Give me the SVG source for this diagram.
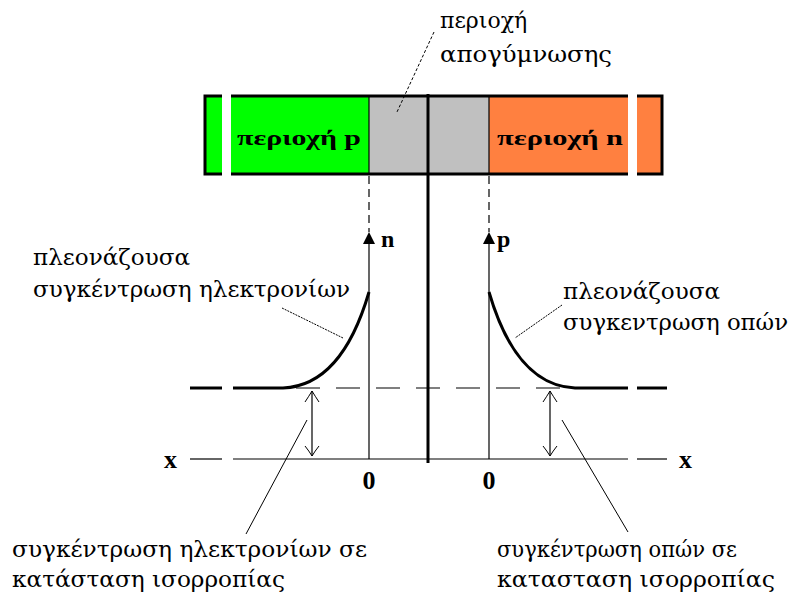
<svg xmlns="http://www.w3.org/2000/svg" width="793" height="597" viewBox="0 0 793 597">
<style>
.lbl{font-family:"DejaVu Serif","Liberation Serif",serif;font-size:22px;fill:#000}
.bld{font-family:"Liberation Serif","DejaVu Serif",serif;font-weight:bold;fill:#000}
.thin{stroke:#000;stroke-width:1.2;fill:none}
.thick{stroke:#000;stroke-width:3;fill:none}
.lead{stroke:#000;stroke-width:1;fill:none}
.head{fill:#000}
</style>
<rect width="793" height="597" fill="#fff"/>

<g id="bar">
<rect x="205" y="96" width="164" height="78" fill="#00ff00"/>
<rect x="369" y="96" width="120" height="78" fill="#c0c0c0"/>
<rect x="489" y="96" width="173" height="78" fill="#ff8040"/>
<rect x="205" y="96" width="457" height="78" fill="none" stroke="#000" stroke-width="3"/>
<line x1="369" y1="96" x2="369" y2="174" stroke="#000" stroke-width="1.2"/>
<line x1="489" y1="96" x2="489" y2="174" stroke="#000" stroke-width="1.2"/>
<rect x="222" y="90" width="9" height="90" fill="#fff"/>
<rect x="628" y="90" width="9" height="90" fill="#fff"/>
<text class="bld" x="237" y="145" font-size="22" textLength="124" lengthAdjust="spacingAndGlyphs">περιοχή p</text>
<text class="bld" x="497" y="145" font-size="22" textLength="126" lengthAdjust="spacingAndGlyphs">περιοχή n</text>
</g>

<g id="connectors">
<line x1="428" y1="94" x2="428" y2="463" stroke="#000" stroke-width="3"/>
<line x1="369" y1="176" x2="369" y2="232" class="thin" stroke-dasharray="8 5"/>
<line x1="489" y1="176" x2="489" y2="232" class="thin" stroke-dasharray="8 5"/>
<line x1="369" y1="459" x2="369" y2="243" class="thin"/>
<polygon class="head" points="369,232 363,244 375,244"/>
<line x1="489" y1="459" x2="489" y2="243" class="thin"/>
<polygon class="head" points="489,232 483,244 495,244"/>
<line x1="190" y1="459" x2="222" y2="459" class="thin"/>
<line x1="233" y1="459" x2="628" y2="459" class="thin"/>
<line x1="637" y1="459" x2="667" y2="459" class="thin"/>
<line x1="296" y1="388" x2="572" y2="388" class="thin" stroke-dasharray="24 16"/>
<line x1="190" y1="388" x2="222" y2="388" class="thick"/>
<path d="M233,388 L283,388 C330,386 355,340 369,292" class="thick"/>
<path d="M489,292 C503,340 528,386 575,388 L628,388" class="thick"/>
<line x1="637" y1="388" x2="667" y2="388" class="thick"/>
<g id="darrow-left">
<line x1="312" y1="391" x2="312" y2="456" class="thin"/>
<path d="M305,402 Q309,396 312,391 Q315,396 319,402" class="lead"/>
<path d="M305,446 Q309,451 312,456 Q315,451 319,446" class="lead"/>
</g>
<g id="darrow-right">
<line x1="550" y1="391" x2="550" y2="456" class="thin"/>
<path d="M543,402 Q547,396 550,391 Q553,396 557,402" class="lead"/>
<path d="M543,446 Q547,451 550,456 Q553,451 557,446" class="lead"/>
</g>
<line x1="434" y1="32" x2="397" y2="112" class="lead" stroke-dasharray="3 2"/>
<line x1="282" y1="308" x2="343" y2="338" class="lead" stroke-dasharray="2 1"/>
<line x1="562" y1="305" x2="515" y2="338" class="lead" stroke-dasharray="2 1"/>
<line x1="307" y1="420" x2="246" y2="534" class="lead"/>
<line x1="562" y1="420" x2="628" y2="532" class="lead"/>
</g>

<g id="axis-labels">
<text class="bld" x="381" y="247" font-size="24">n</text>
<text class="bld" x="497" y="247" font-size="24">p</text>
<text class="bld" x="164" y="468" font-size="26">x</text>
<text class="bld" x="679" y="468" font-size="26">x</text>
<text class="bld" x="369" y="489" font-size="26" text-anchor="middle">0</text>
<text class="bld" x="489" y="489" font-size="26" text-anchor="middle">0</text>
</g>

<g id="label-depletion">
<text class="lbl" x="440" y="28">περιοχή</text>
<text class="lbl" x="440" y="62" textLength="172" lengthAdjust="spacingAndGlyphs">απογύμνωσης</text>
</g>
<g id="label-excess-electrons">
<text class="lbl" x="33" y="265" textLength="157" lengthAdjust="spacingAndGlyphs">πλεονάζουσα</text>
<text class="lbl" x="33" y="297" textLength="317" lengthAdjust="spacingAndGlyphs">συγκέντρωση ηλεκτρονίων</text>
</g>
<g id="label-excess-holes">
<text class="lbl" x="563" y="299" textLength="157" lengthAdjust="spacingAndGlyphs">πλεονάζουσα</text>
<text class="lbl" x="563" y="330" textLength="225" lengthAdjust="spacingAndGlyphs">συγκεντρωση οπών</text>
</g>
<g id="label-eq-electrons">
<text class="lbl" x="12" y="557" textLength="355" lengthAdjust="spacingAndGlyphs">συγκέντρωση ηλεκτρονίων σε</text>
<text class="lbl" x="12" y="587" textLength="273" lengthAdjust="spacingAndGlyphs">κατάσταση ισορροπίας</text>
</g>
<g id="label-eq-holes">
<text class="lbl" x="497" y="557" textLength="240" lengthAdjust="spacingAndGlyphs">συγκέντρωση οπών σε</text>
<text class="lbl" x="497" y="587" textLength="278" lengthAdjust="spacingAndGlyphs">κατασταση ισορροπίας</text>
</g>
</svg>
